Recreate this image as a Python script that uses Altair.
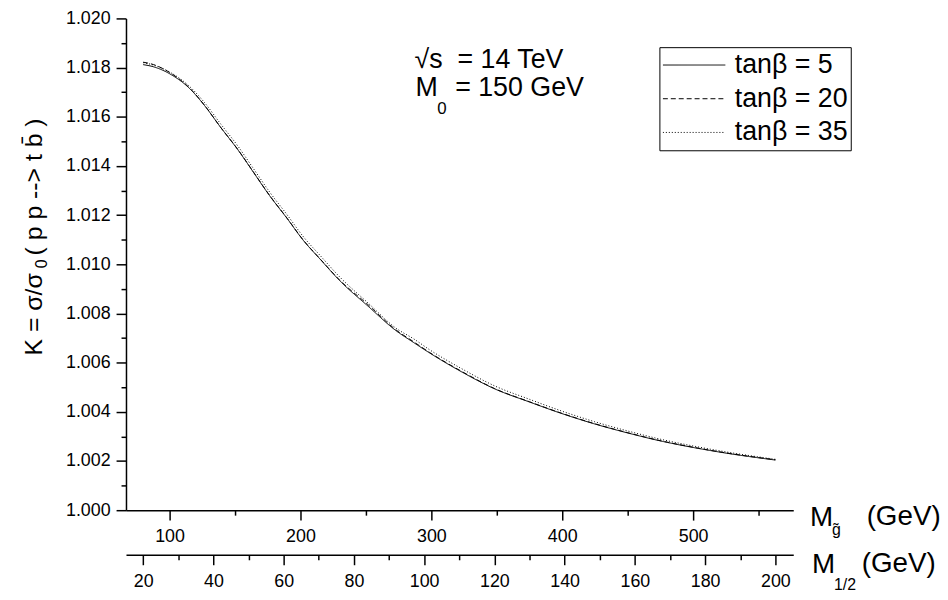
import altair as alt
import pandas as pd

# ---- data ----
M_HALF = [20, 23, 28, 33, 37.5, 42, 47, 51.5, 56, 61, 65.5, 70.5, 76, 84, 92, 97,
          101.5, 111, 120, 130, 139, 148.5, 158, 167.5, 177, 186, 200]
K_TB5 = [1.01812, 1.01803, 1.01771, 1.01718, 1.01645, 1.01558, 1.01465, 1.01372,
         1.01279, 1.01186, 1.01099, 1.01019, 1.00933, 1.00830, 1.00730, 1.00682,
         1.00640, 1.00560, 1.00494, 1.00440, 1.00394, 1.00351, 1.00314, 1.00281,
         1.00254, 1.00232, 1.00204]
K_TB20 = [1.01822, 1.01812, 1.01776, 1.01720, 1.01646, 1.01558, 1.01466, 1.01373,
          1.01280, 1.01187, 1.01100, 1.01020, 1.00935, 1.00836, 1.00733, 1.00685,
          1.00642, 1.00562, 1.00495, 1.00441, 1.00395, 1.00352, 1.00315, 1.00282,
          1.00255, 1.00233, 1.00205]
K_TB35 = [1.01820, 1.01810, 1.01778, 1.01726, 1.01657, 1.01572, 1.01480, 1.01387,
          1.01294, 1.01201, 1.01114, 1.01034, 1.00948, 1.00843, 1.00740, 1.00697,
          1.00653, 1.00573, 1.00506, 1.00451, 1.00404, 1.00360, 1.00322, 1.00288,
          1.00260, 1.00237, 1.00207]
SERIES = ["tanβ = 5", "tanβ = 20", "tanβ = 35"]

Y_TICKS = [round(1.0 + 0.001 * i, 3) for i in range(21)]
MG_TICKS = [100, 150, 200, 250, 300, 350, 400, 450, 500, 550]
MHALF_TICKS = [20, 30, 40, 50, 60, 70, 80, 90, 100, 110, 120, 130, 140, 150,
               160, 170, 180, 190, 200]

FONT = "Liberation Sans"

rows = []
for name, vals in zip(SERIES, [K_TB5, K_TB20, K_TB35]):
    for m, k in zip(M_HALF, vals):
        rows.append({"M": m, "K": k, "series": name})
df = pd.DataFrame(rows)


def axis_common(**kw):
    base = dict(grid=False, title=None, labelFont=FONT, labelFontSize=18,
                labelColor="black", domainColor="black", tickColor="black",
                domainWidth=1.5, tickWidth=1.5, labelOverlap=False, labelFlush=False)
    base.update(kw)
    return alt.Axis(**base)


lines = alt.Chart(df).mark_line(color="black", strokeWidth=1, interpolate="monotone").encode(
    x=alt.X("M:Q",
            scale=alt.Scale(domain=[15.1, 205.1], nice=False, zero=False),
            axis=axis_common(orient="bottom", offset=45, values=MHALF_TICKS,
                             labelExpr="datum.value % 20 == 0 ? datum.label : ''",
                             tickSize={"condition": {"test": "datum.value % 20 == 0", "value": 10}, "value": 5},
                             labelPadding=8)),
    y=alt.Y("K:Q",
            scale=alt.Scale(domain=[1.0, 1.02], nice=False, zero=False),
            axis=axis_common(values=Y_TICKS, format=".3f",
                             labelExpr="round(datum.value * 1000) % 2 == 0 ? datum.label : ''",
                             tickSize={"condition": {"test": "round(datum.value * 1000) % 2 == 0", "value": 10}, "value": 5},
                             labelPadding=6)),
    strokeDash=alt.StrokeDash(
        "series:N",
        scale=alt.Scale(domain=SERIES, range=[[1, 0], [5, 3], [1, 2]]),
        legend=alt.Legend(title=None, orient="none", legendX=538, legendY=29,
                          padding=3, strokeColor="black", fillColor="white",
                          symbolType="stroke", symbolSize=3969, symbolStrokeWidth=1,
                          symbolStrokeColor="black", clipHeight=30, rowPadding=4,
                          labelFontSize=27, labelFont=FONT, labelColor="black",
                          labelOffset=9, labelLimit=400)),
)

mg_axis = alt.Chart(pd.DataFrame({"Mg": MG_TICKS})).mark_point(opacity=0).encode(
    x=alt.X("Mg:Q",
            scale=alt.Scale(domain=[66.7, 576.5], nice=False, zero=False),
            axis=axis_common(orient="bottom", offset=0, values=MG_TICKS,
                             labelExpr="datum.value % 100 == 0 ? datum.label : ''",
                             tickSize={"condition": {"test": "datum.value % 100 == 0", "value": 10}, "value": 5},
                             labelPadding=8)),
    y=alt.value(0),
)


def txt(s, x, y, size, angle=0):
    kw = dict(text=s, fontSize=size, font=FONT, align="left",
              baseline="alphabetic", color="black")
    if angle:
        kw["angle"] = angle
    return alt.Chart(alt.Data(values=[{}])).mark_text(**kw).encode(
        x=alt.value(x), y=alt.value(y))


NB = "\u00a0"
texts = [
    # y-axis title (rotated)
    txt("K = σ/σ", -85, 340, 25, 270),
    txt("0", -80, 252, 16, 270),
    txt("( p p --> t b\u0304 )", -85, 239, 25, 270),
    # annotation
    txt("√s" + NB + NB + "= 14 TeV", 291, 50, 27),
    txt("M", 292, 78, 27),
    txt("0", 314, 96, 17),
    txt("= 150 GeV", 332, 78, 27),
    # x-axis titles
    txt("M", 690, 512, 28),
    txt("g\u0303", 712, 521, 16),
    txt("(GeV)", 747, 511, 28),
    txt("M", 692, 559, 28),
    txt("1/2", 714, 576, 16),
    txt("(GeV)", 742, 558, 28),
]

chart = alt.layer(lines, mg_axis, *texts).resolve_scale(x="independent").properties(
    width=673, height=496,
    background="white",
    autosize=alt.AutoSizeParams(type="none"),
    padding={"left": 119, "top": 8, "right": 148, "bottom": 80},
).configure_view(stroke=None)

chart.save("out.html", embed_options={"renderer": "svg", "actions": False})
